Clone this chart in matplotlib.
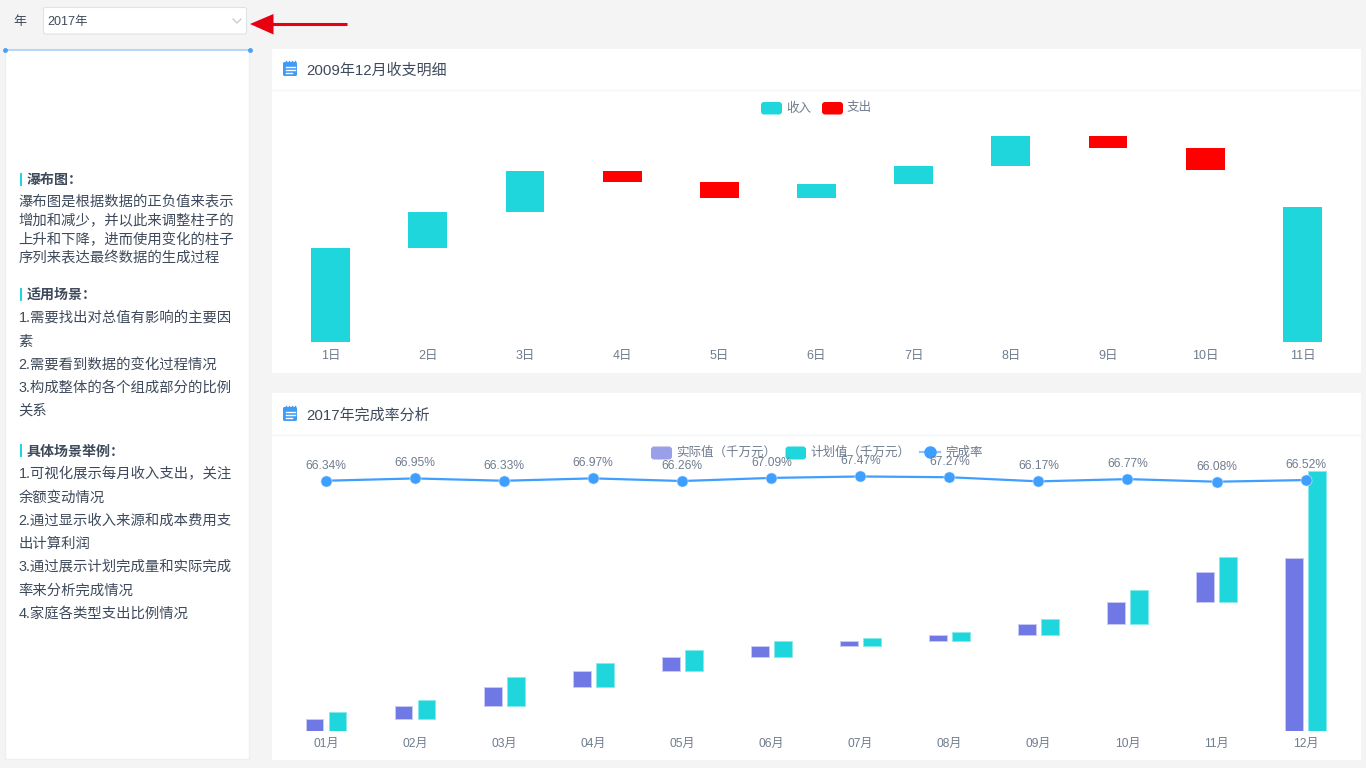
import numpy as np
import matplotlib.pyplot as plt
from matplotlib.patches import FancyBboxPatch, Rectangle, Polygon

# latin digits in an Arial-like face, chinese falls through to Noto
plt.rcParams['font.family'] = ['Liberation Sans', 'Noto Sans CJK SC', 'DejaVu Sans']

W, H = 1366, 768
TEXT = '#3e4a5b'
TICK = '#6f7c8e'
CYAN = '#1fd6dc'
PURPLE = '#6f78e4'
BLUE = '#3f9fff'

# waterfall data (top chart)
days = ['1日', '2日', '3日', '4日', '5日', '6日', '7日', '8日', '9日', '10日', '11日']
income_base = [0, 94, 130, 0, 0, 144, 158, 176, 0, 0, 0]
income = [94, 36, 41, 0, 0, 14, 18, 30, 0, 0, 135]
expense_base = [0, 0, 0, 160, 144, 0, 0, 0, 194, 172, 0]
expense = [0, 0, 0, 11, 16, 0, 0, 0, 12, 22, 0]

# completion rate data (bottom chart)
months = ['01月', '02月', '03月', '04月', '05月', '06月', '07月', '08月', '09月', '10月', '11月', '12月']
actual = [12, 12.4, 19.6, 15.4, 13.7, 11.3, 5.5, 6, 10.7, 22.3, 29.3, 173]
plan = [18.4, 18.4, 29.6, 23.4, 20.7, 16.3, 8.5, 9, 15.7, 33.6, 44.3, 260]
stack_base = [0, 12, 24.4, 44, 59.4, 73.1, 84.4, 89.9, 95.9, 106.6, 128.9, 0]
rate = [66.34, 66.95, 66.33, 66.97, 66.26, 67.09, 67.47, 67.27, 66.17, 66.77, 66.08, 66.52]

# left panel text
left_lines = [
    ('h', 179, '瀑布图：'),
    ('t', 200.5, '瀑布图是根据数据的正负值来表示'),
    ('t', 220, '增加和减少，并以此来调整柱子的'),
    ('t', 239, '上升和下降，进而使用变化的柱子'),
    ('t', 257, '序列来表达最终数据的生成过程'),
    ('h', 294, '适用场景：'),
    ('t', 317, '1.需要找出对总值有影响的主要因'),
    ('t', 341, '素'),
    ('t', 364, '2.需要看到数据的变化过程情况'),
    ('t', 387, '3.构成整体的各个组成部分的比例'),
    ('t', 410, '关系'),
    ('h', 450.5, '具体场景举例：'),
    ('t', 473, '1.可视化展示每月收入支出，关注'),
    ('t', 497, '余额变动情况'),
    ('t', 520, '2.通过显示收入来源和成本费用支'),
    ('t', 543, '出计算利润'),
    ('t', 566, '3.通过展示计划完成量和实际完成'),
    ('t', 590, '率来分析完成情况'),
    ('t', 613, '4.家庭各类型支出比例情况'),
]


def px(size):
    return size * 72 / 100


def axes_box(left, top, right, bottom):
    return [left / W, 1 - bottom / H, (right - left) / W, (bottom - top) / H]


def round_box(ax, x0, y0, x1, y1, color, r=2, edge='none', lw=0, z=2):
    ax.add_patch(FancyBboxPatch((x0 + r, y0 + r), x1 - x0 - 2 * r, y1 - y0 - 2 * r,
                                boxstyle='round,pad=%s,rounding_size=%s' % (r, r),
                                fc=color, ec=edge, lw=lw, zorder=z))


def note_icon(ax, x, y):
    round_box(ax, x, y + 1, x + 14, y + 15, '#3f9bf5', r=1.5)
    for tx in [x + 2.5, x + 5.5, x + 8.5, x + 11.5]:
        ax.plot([tx, tx], [y - 0.5, y + 2.5], color='#3f9bf5', lw=1, zorder=3)
    for ly, l in [(y + 6, 9.5), (y + 9, 9.5), (y + 12, 6)]:
        ax.plot([x + 2.5, x + 2.5 + l], [ly, ly], color='white', lw=1, zorder=3)


fig = plt.figure(figsize=(W / 100, H / 100), dpi=100, facecolor='#f4f4f4')

# page furniture drawn in pixel coordinates
page = fig.add_axes([0, 0, 1, 1])
page.set_xlim(0, W)
page.set_ylim(H, 0)
page.axis('off')

page.text(20, 22, '年', fontsize=px(13), color=TEXT, ha='center', va='center')
round_box(page, 43.5, 7.5, 246.5, 34, 'white', r=2, edge='#dfe2e6', lw=0.8)
page.text(47, 22, '2017年', fontsize=px(12.5), color=TEXT, va='center')
page.plot([233, 237, 241], [19, 23, 19], color='#c4c8cf', lw=0.9)

# red arrow next to the year selector
page.plot([270, 347], [24, 24], color='#e60012', lw=2.2, solid_capstyle='butt')
page.add_patch(Polygon([[250, 24], [273.5, 14], [273.5, 34.5]], fc='#e60012', ec='none', zorder=3))

# left panel
page.add_patch(Rectangle((4.5, 49), 244.5, 710, fc='white', ec='#e8f1fb', lw=1, zorder=1))
page.plot([5, 249], [49.5, 49.5], color='#a9d0fb', lw=1.2, zorder=2)
page.plot([4.5, 249.5], [49.5, 49.5], ls='none', marker='o', ms=2.5, color='#4d9ff5', zorder=3)
for kind, y, txt in left_lines:
    if kind == 'h':
        page.add_patch(Rectangle((19.5, y - 6.5), 2, 13, fc=CYAN, ec='none', zorder=3))
        page.text(27, y + 1, txt, fontsize=px(14), color=TEXT, weight='bold', va='center', zorder=3)
    else:
        page.text(18.5, y + 1, txt, fontsize=px(14.35), color=TEXT, va='center', zorder=3)

# right panels
for top, bottom, line_y, title, icon_y in [
    (49, 373, 89.5, '2009年12月收支明细', 61),
    (393, 760, 434.5, '2017年完成率分析', 406),
]:
    page.add_patch(Rectangle((272, top), 1089, bottom - top, fc='white', ec='none', zorder=1))
    page.plot([272, 1361], [line_y, line_y], color='#f4f5f7', lw=1, zorder=2)
    note_icon(page, 283, icon_y)
    page.text(306, (top + line_y) / 2 + 1.5, title, fontsize=px(15), color=TEXT, va='center', zorder=3)

# legends
round_box(page, 761, 102, 782, 114.5, CYAN, r=3)
page.text(786, 108.5, '收入', fontsize=px(12.5), color=TICK, va='center', zorder=3)
round_box(page, 822, 102, 843, 114.5, '#ff0000', r=3)
page.text(847, 108.5, '支出', fontsize=px(12.5), color=TICK, va='center', zorder=3)

round_box(page, 651, 446.5, 672, 459.5, '#9a9fea', r=3)
page.text(676, 453, '实际值（千万元）', fontsize=px(12.5), color=TICK, va='center', zorder=3)
round_box(page, 785.5, 446.5, 806, 459.5, CYAN, r=3)
page.text(810, 453, '计划值（千万元）', fontsize=px(12.5), color=TICK, va='center', zorder=3)
page.plot([920, 940], [452, 452], color='#8cc5ff', lw=1.6, zorder=3)
page.plot([930], [452], marker='o', ms=8, color=BLUE, zorder=4)
page.text(945, 453, '完成率', fontsize=px(12.5), color=TICK, va='center', zorder=3)

# waterfall chart
ax1 = fig.add_axes(axes_box(282, 125, 1351, 342))
ax1.patch.set_alpha(0)
x1 = np.arange(len(days))
ax1.bar(x1, income, 0.4, bottom=income_base, color=CYAN)
ax1.bar(x1, expense, 0.4, bottom=expense_base, color='#ff0000')
ax1.set_xlim(-0.5, 10.5)
ax1.set_ylim(0, 217)
ax1.set_xticks(x1, days)
ax1.set_yticks([])
ax1.tick_params(axis='x', length=0, pad=5.5, labelsize=px(12.5), labelcolor=TICK)
for s in ax1.spines.values():
    s.set_visible(False)

# completion rate chart
ax2 = fig.add_axes(axes_box(281.5, 464.5, 1350.1, 730.5))
ax2.patch.set_alpha(0)
x2 = np.arange(len(months))
ax2.bar(x2 - 0.129, actual, 0.2, bottom=stack_base, color=PURPLE, edgecolor='#c6caf5', linewidth=0.7)
ax2.bar(x2 + 0.129, plan, 0.2, bottom=stack_base, color=CYAN, edgecolor='#86eaec', linewidth=0.7)
ax2.set_xlim(-0.5, 11.5)
ax2.set_ylim(0, 266)
ax2.set_xticks(x2, months)
ax2.set_yticks([])
ax2.tick_params(axis='x', length=0, pad=5.5, labelsize=px(12), labelcolor=TICK)
for s in ax2.spines.values():
    s.set_visible(False)

ax3 = ax2.twinx()
ax3.patch.set_alpha(0)
ax3.plot(x2, rate, color=BLUE, lw=1.6, marker='o', ms=8, mec='#d6e9ff', mew=0.4, clip_on=False, zorder=5)
ax3.set_ylim(0, 70.65)
ax3.set_yticks([])
for s in ax3.spines.values():
    s.set_visible(False)
for xi, r in zip(x2, rate):
    ax3.annotate('%.2f%%' % r, (xi, r), xytext=(0, 15 * 0.72), textcoords='offset points',
                 ha='center', va='center', fontsize=px(12), color=TICK, zorder=6)

fig.savefig('out.png', dpi=100, facecolor=fig.get_facecolor())
